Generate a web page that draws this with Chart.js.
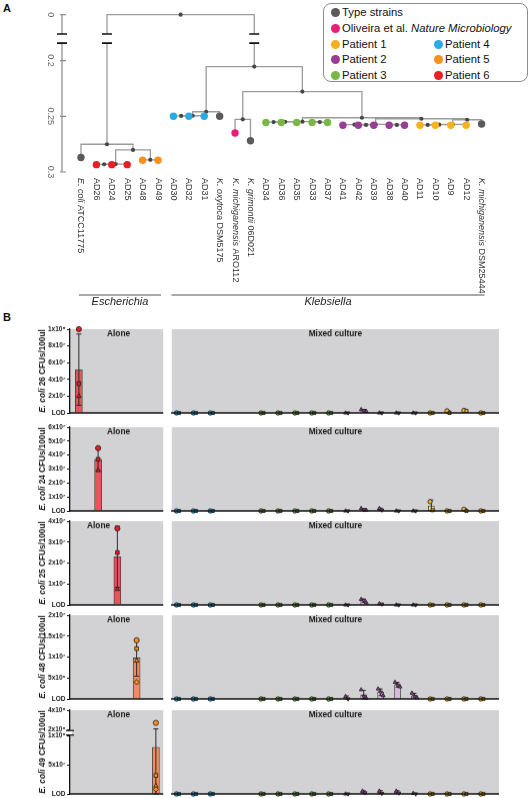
<!DOCTYPE html>
<html>
<head>
<meta charset="utf-8">
<title>Strain tree and E. coli CFU counts</title>
<script src="https://cdn.jsdelivr.net/npm/chart.js@4.4.1/dist/chart.umd.min.js"></script>
<style>
  body { margin: 0; width: 530px; height: 798px; overflow: hidden; background: #fff; position: relative;
         font-family: "Liberation Sans", Arial, sans-serif; }
  canvas { position: absolute; }
  .letter { position: absolute; font-weight: bold; font-size: 11px; color: #111; }
  #legend { position: absolute; left: 323px; top: 3px; width: 205px; height: 79px; box-sizing: border-box;
            border: 1px solid #8c8c8c; border-radius: 8px; font-size: 11.3px; color: #111; }
  .lg { position: absolute; height: 12px; line-height: 12px; white-space: nowrap; }
  .lg span { display: inline-block; width: 9px; height: 9px; border-radius: 50%; margin-right: 2.5px; vertical-align: -1px; }
</style>
</head>
<body>
<div class="letter" style="left:3px;top:2px">A</div>
<div class="letter" style="left:3px;top:311px">B</div>
<div id="legend"></div>
<script>
'use strict';

// ---------- panel A: strain tree ----------
const leafNames = ['E. coli ATCC11775', 'AD26', 'AD24', 'AD25', 'AD48', 'AD49', 'AD30', 'AD32', 'AD31',
  'K. oxytoca DSM5175', 'K. michiganensis ARO112', 'K. grimontii 06D021', 'AD34', 'AD36', 'AD35', 'AD33', 'AD37',
  'AD41', 'AD42', 'AD39', 'AD38', 'AD40', 'AD11', 'AD10', 'AD9', 'AD12', 'K. michiganensis DSM25444'];
const groupNames = ['Type strains', 'Oliveira et al. Nature Microbiology', 'Patient 1', 'Patient 2',
  'Patient 3', 'Patient 4', 'Patient 5', 'Patient 6'];
const groupColors = ['#5a5a5a', '#e91e7a', '#f6b21e', '#9a3d96', '#78b843', '#2aabe2', '#f7901e', '#ec1c24'];
const leafGroup = [0, 7, 7, 7, 6, 6, 5, 5, 5, 0, 1, 0, 4, 4, 4, 4, 4, 3, 3, 3, 3, 3, 2, 2, 2, 2, 0];
const leafDepth = [0.287, 0.2934, 0.2934, 0.2934, 0.2894, 0.2894, 0.25, 0.25, 0.25, 0.25, 0.265, 0.272,
  0.2555, 0.2555, 0.2555, 0.2555, 0.2555, 0.258, 0.258, 0.258, 0.258, 0.258, 0.258, 0.258, 0.258, 0.258, 0.2569];
// internal nodes, numbered after the leaves (27, 28, ...)
const nodeKids = [[1, 2], [27, 3], [4, 5], [28, 29], [0, 30], [6, 7], [32, 8], [33, 9], [10, 11],
  [12, 13], [36, 14], [15, 16], [37, 38], [18, 19], [17, 40], [20, 21], [41, 42], [22, 23], [44, 24],
  [45, 25], [46, 26], [43, 47], [39, 48], [35, 49], [34, 50], [31, 51]];
const nodeDepth = [0.2931, 0.2929, 0.2891, 0.2802, 0.2751, 0.2497, 0.2495, 0.2459, 0.2527,
  0.2552, 0.255, 0.2552, 0.2548, 0.2577, 0.2575, 0.2577, 0.2573, 0.2577, 0.2575,
  0.2573, 0.2531, 0.2522, 0.2513, 0.2278, 0.2054, 0];
const depthTicks = [0, 0.2, 0.25, 0.3];
const genusNames = ['Escherichia', 'Klebsiella'];
const genusLeaves = [[0, 5], [6, 26]];

// ---------- panel B: CFUs/100ul ----------
const aloneStrains = ['E. coli 26', 'E. coli 24', 'E. coli 25', 'E. coli 48', 'E. coli 49'];
const aloneGroup = [7, 7, 7, 6, 6];
const aloneCounts = [
  [1.0e8, 3.5e7, 2.0e7],
  [4.5e7, 3.7e7, 2.9e7],
  [3.65e7, 2.5e7, 0.75e7],
  [1.4e7, 1.2e7, 0.91e7, 0.4e7],
  [2.68e8, 3.2e7, 1.4e7, 0.8e7]
];
const mixedStrains = ['AD30', 'AD32', 'AD31', '', '', 'AD34', 'AD36', 'AD35', 'AD33', 'AD37',
  'AD41', 'AD42', 'AD39', 'AD38', 'AD40', 'AD11', 'AD10', 'AD9', 'AD12'];
const mixedGroup = [5, 5, 5, null, null, 4, 4, 4, 4, 4, 3, 3, 3, 3, 3, 2, 2, 2, 2];
const mixed26 = [[0, 0], [0, 0], [0, 0], null, null, [0, 0], [0, 0], [0, 0], [0, 0], [0, 0],
  [0, 0], [4e6, 3e6, 2e6], [0, 0], [0, 0], [0, 0], [0, 0], [2.5e6, 0], [3e6, 2.5e6], [0, 0]];
const mixed24 = [[0, 0], [0, 0], [0, 0], null, null, [0, 0], [0, 0], [0, 0], [0, 0], [0, 0],
  [0, 0], [1.8e6, 0.8e6, 0.6e6], [1.8e6, 0.6e6], [0, 0], [0, 0], [6.6e6, 0.5e6], [0, 0], [1.2e6, 0], [0, 0]];
const mixed25 = [[0, 0], [0, 0], [0, 0], null, null, [0, 0], [0, 0], [0, 0], [0, 0], [0, 0],
  [0, 0], [2.7e6, 2.2e6, 1.1e6], [0.6e6, 0.4e6], [0, 0], [0, 0], [0, 0], [0, 0], [0, 0], [0, 0]];
const mixed48 = [[0, 0], [0, 0], [0, 0], null, null, [0, 0], [0, 0], [0, 0], [0, 0], [0, 0],
  [0.6e6, 0], [2.2e6, 0.6e6, 0.2e6], [2.4e6, 1.6e6, 0.8e6], [4.0e6, 3.3e6, 2.9e6], [1.4e6, 0.6e6, 0.3e6],
  [0, 0], [0, 0], [0, 0], [0, 0]];
const mixed49 = [[0, 0], [0, 0], [0, 0], null, null, [0, 0], [0, 0], [0, 0], [0, 0], [0, 0],
  [0, 0], [5e6, 2e6], [5e6, 1e6], [5e6, 1.5e6], [1e6, 0], [0, 0], [0, 0], [0, 0], [0, 0]];
const mixedCounts = [mixed26, mixed24, mixed25, mixed48, mixed49];
const yTicks = [
  [0, 2e7, 4e7, 6e7, 8e7, 1e8],
  [0, 1e7, 2e7, 3e7, 4e7, 5e7, 6e7],
  [0, 1e7, 2e7, 3e7, 4e7],
  [0, 5e6, 1e7, 1.5e7, 2e7],
  [0, 5e7, 1e8, 2e8, 4e8]
];
const yTickLabels = [
  ['LOD', '2x10⁷', '4x10⁷', '6x10⁷', '8x10⁷', '1x10⁸'],
  ['LOD', '1x10⁷', '2x10⁷', '3x10⁷', '4x10⁷', '5x10⁷', '6x10⁷'],
  ['LOD', '1x10⁷', '2x10⁷', '3x10⁷', '4x10⁷'],
  ['LOD', '5x10⁶', '1x10⁷', '1.5x10⁷', '2x10⁷'],
  ['LOD', '5x10⁷', '1x10⁸', '2x10⁸', '4x10⁸']
];

// ---------- styling / helpers ----------
const FONT = '"Liberation Sans", Arial, sans-serif';
const barFill = ['#aaaaaa', '#f59ac0', '#f7d583', '#d9b9da', '#bfe09e', '#a9d9f2', '#f08b5e', '#e9535b'];
const panelGray = '#d2d2d4';
const repShapes = ['circle', 'rect', 'triangle', 'rectRot'];

const mean = a => a.reduce((s, v) => s + v, 0) / a.length;
const sd = a => { const m = mean(a); return Math.sqrt(a.reduce((s, v) => s + (v - m) ** 2, 0) / (a.length - 1)); };

// the tree axis squeezes 0-0.2 into a short broken stretch
const depthToAxis = d => d >= 0.2 ? d : 0.2 - (0.2 - d) * 0.206;
// E. coli 49 axis is broken above 1x10^8
const brokenAxis = v => v <= 1e8 ? v : v <= 2e8 ? 1e8 + (v - 1e8) * 0.115 : 1.115e8 + (v - 2e8) * 0.1665;
const rowScale = [v => v, v => v, v => v, v => v, brokenAxis];

function speciesParts(name, style) {
  const m = name.match(/^([EK]\. \S+)(.*)$/);
  return m ? [[m[1], style + 'italic '], [m[2], style]] : [[name, style]];
}
function richWidth(ctx, parts, size) {
  let w = 0;
  parts.forEach(([t, st]) => { ctx.font = `${st}${size}px ${FONT}`; w += ctx.measureText(t).width; });
  return w;
}
function drawRich(ctx, parts, x, y, size) {
  let off = x;
  parts.forEach(([t, st]) => { ctx.font = `${st}${size}px ${FONT}`; ctx.fillText(t, off, y); off += ctx.measureText(t).width; });
}
function makeCanvas(left, top, w, h) {
  const c = document.createElement('canvas');
  c.width = w; c.height = h;
  c.style.left = left + 'px'; c.style.top = top + 'px';
  c.style.width = w + 'px'; c.style.height = h + 'px';
  document.body.appendChild(c);
  return c;
}

// legend
const legendRows = [[0], [1], [2, 5], [3, 6], [4, 7]];
const legendBox = document.getElementById('legend');
legendRows.forEach((row, i) => row.forEach((g, j) => {
  const d = document.createElement('div');
  d.className = 'lg';
  d.style.left = (j ? 109.5 : 6.5) + 'px';
  d.style.top = (2.3 + i * 15.6) + 'px';
  d.innerHTML = `<span style="background:${groupColors[g]}"></span>` +
    groupNames[g].replace('Nature Microbiology', '<i>Nature Microbiology</i>');
  legendBox.appendChild(d);
}));

// ---------- panel A chart ----------
const nodeX = leafNames.map((_, i) => i);
const nodeD = leafDepth.slice();
nodeKids.forEach(([a, b], k) => { nodeX.push((nodeX[a] + nodeX[b]) / 2); nodeD.push(nodeDepth[k]); });

const branchSets = nodeKids.map(([a, b], k) => {
  const p = leafNames.length + k;
  return {
    showLine: true, order: 3, borderColor: '#9b9b9b', borderWidth: 1.3, pointRadius: 0, clip: false,
    data: [
      { x: nodeX[a], y: depthToAxis(nodeD[a]) }, { x: nodeX[a], y: depthToAxis(nodeD[p]) },
      { x: nodeX[b], y: depthToAxis(nodeD[p]) }, { x: nodeX[b], y: depthToAxis(nodeD[b]) }
    ]
  };
});
const nodeSet = {
  order: 2, pointRadius: 2.1, pointBackgroundColor: '#474747', pointBorderWidth: 0, clip: false,
  data: nodeKids.map((_, k) => ({ x: nodeX[leafNames.length + k], y: depthToAxis(nodeDepth[k]) }))
};
const leafSet = {
  order: 1, pointRadius: 3.7, pointBorderWidth: 0, clip: false,
  pointBackgroundColor: leafGroup.map(g => groupColors[g]),
  data: leafNames.map((_, i) => ({ x: i, y: depthToAxis(leafDepth[i]) }))
};

const treePlugin = {
  id: 'tree',
  afterDraw(chart) {
    const { ctx, chartArea: area, scales: { x, y } } = chart;
    const yTop = y.getPixelForValue(depthToAxis(0));
    const yBot = y.getPixelForValue(0.3);
    ctx.save();
    // depth axis
    ctx.strokeStyle = '#8a8a8a'; ctx.lineWidth = 1.2;
    ctx.beginPath();
    ctx.moveTo(area.left, yTop); ctx.lineTo(area.left, yBot);
    depthTicks.forEach(d => {
      const py = y.getPixelForValue(depthToAxis(d));
      ctx.moveTo(area.left - 2, py); ctx.lineTo(area.left + 4, py);
    });
    ctx.stroke();
    ctx.fillStyle = '#666'; ctx.font = `9px ${FONT}`; ctx.textAlign = 'center'; ctx.textBaseline = 'middle';
    depthTicks.forEach(d => {
      ctx.save();
      ctx.translate(area.left - 12, y.getPixelForValue(depthToAxis(d)));
      ctx.rotate(Math.PI / 2);
      ctx.fillText(String(d), 0, 0);
      ctx.restore();
    });
    // axis breaks on the depth axis and both root branches
    const y02 = y.getPixelForValue(0.2);
    const b1 = yTop + 0.42 * (y02 - yTop), b2 = yTop + 0.62 * (y02 - yTop);
    const breakXs = [area.left, ...nodeKids[nodeKids.length - 1].map(k => x.getPixelForValue(nodeX[k]))];
    breakXs.forEach(px => {
      ctx.fillStyle = '#fff'; ctx.fillRect(px - 3, b1, 6, b2 - b1);
      ctx.strokeStyle = '#111'; ctx.lineWidth = 1.6;
      ctx.beginPath();
      ctx.moveTo(px - 5, b1); ctx.lineTo(px + 5, b1);
      ctx.moveTo(px - 5, b2); ctx.lineTo(px + 5, b2);
      ctx.stroke();
    });
    // strain labels, rotated to read downwards
    ctx.fillStyle = '#333'; ctx.textAlign = 'left';
    leafNames.forEach((name, i) => {
      ctx.save();
      ctx.translate(x.getPixelForValue(i), area.bottom + 6);
      ctx.rotate(Math.PI / 2);
      drawRich(ctx, speciesParts(name, ''), 0, 0, 9);
      ctx.restore();
    });
    // genus brackets
    genusLeaves.forEach(([a, b], g) => {
      const x1 = x.getPixelForValue(a) - 2, x2 = x.getPixelForValue(b) + 3, ly = area.bottom + 123;
      ctx.strokeStyle = '#555'; ctx.lineWidth = 1;
      ctx.beginPath(); ctx.moveTo(x1, ly); ctx.lineTo(x2, ly); ctx.stroke();
      ctx.fillStyle = '#222'; ctx.font = `italic 11px ${FONT}`; ctx.textAlign = 'center';
      ctx.fillText(genusNames[g], (x1 + x2) / 2, ly + 7);
    });
    ctx.restore();
  }
};

new Chart(makeCanvas(0, 0, 530, 326), {
  type: 'scatter',
  data: { datasets: [leafSet, nodeSet, ...branchSets] },
  options: {
    responsive: false, animation: false, devicePixelRatio: 1, events: [],
    layout: { padding: { left: 62, right: 33, top: 14.7, bottom: 154 } },
    scales: {
      x: { type: 'linear', display: false, offset: false, min: -1.232, max: 27 },
      y: { type: 'linear', display: false, reverse: true, min: depthToAxis(0), max: 0.3 }
    },
    plugins: { legend: { display: false }, tooltip: { enabled: false } }
  },
  plugins: [treePlugin]
});

// ---------- panel B charts ----------
const rowTop = [329, 427, 521, 615, 710];
const rowH = 83.5;

function cfuChart(cfg) {
  const { r, left, width, padLeft, padRight, xMin, xMax, bars, points, errors, title, showAxis } = cfg;
  const T = rowScale[r];
  const ticks = yTicks[r];
  const canvas = makeCanvas(left, rowTop[r] - 14, width, rowH + 22);
  const plugin = {
    id: 'cfu',
    beforeDraw(chart) {
      const { ctx, chartArea: a } = chart;
      ctx.save(); ctx.fillStyle = panelGray; ctx.fillRect(a.left, a.top, a.right - a.left, a.bottom - a.top); ctx.restore();
    },
    afterDatasetDraw(chart, args) {
      if (args.index !== 0) return;
      const { ctx, scales: { x, y } } = chart;
      ctx.save(); ctx.strokeStyle = '#2b2b2b'; ctx.lineWidth = 1;
      ctx.beginPath();
      errors.forEach(e => {
        const px = x.getPixelForValue(e.x), lo = y.getPixelForValue(e.lo), hi = y.getPixelForValue(e.hi);
        ctx.moveTo(px, lo); ctx.lineTo(px, hi);
        ctx.moveTo(px - e.cap, hi); ctx.lineTo(px + e.cap, hi);
        ctx.moveTo(px - e.cap, lo); ctx.lineTo(px + e.cap, lo);
      });
      ctx.stroke(); ctx.restore();
    },
    afterDraw(chart) {
      const { ctx, chartArea: a, scales: { y } } = chart;
      ctx.save();
      ctx.strokeStyle = '#111'; ctx.lineWidth = 1.5;
      ctx.beginPath(); ctx.moveTo(a.left - 0.7, a.bottom); ctx.lineTo(a.right, a.bottom); ctx.stroke();
      ctx.fillStyle = '#1a1a1a'; ctx.textAlign = 'center'; ctx.textBaseline = 'middle';
      ctx.font = `bold 8.3px ${FONT}`;
      ctx.fillText(title, (a.left + a.right) / 2 + (cfg.titleShift || 0), a.top + 4.5);
      if (showAxis) {
        const parts = speciesParts(aloneStrains[r] + ' CFUs/100ul', 'bold ');
        const w = richWidth(ctx, parts, 8.2);
        ctx.save();
        ctx.translate(43, (a.top + a.bottom) / 2);
        ctx.rotate(-Math.PI / 2);
        ctx.textAlign = 'left';
        drawRich(ctx, parts, -w / 2, 0, 8.2);
        ctx.restore();
        if (T === brokenAxis) {
          const y1 = y.getPixelForValue(T(1e8)), y2 = y.getPixelForValue(T(2e8));
          ctx.fillStyle = '#fff'; ctx.fillRect(a.left - 2, y2 + 1.2, 4, y1 - y2 - 2.4);
          ctx.strokeStyle = '#111'; ctx.lineWidth = 1.2;
          ctx.beginPath();
          ctx.moveTo(a.left - 4, y1 - 1); ctx.lineTo(a.left + 4, y1 - 1);
          ctx.moveTo(a.left - 4, y2 + 1); ctx.lineTo(a.left + 4, y2 + 1);
          ctx.stroke();
        }
      }
      ctx.restore();
    }
  };
  const yScale = {
    type: 'linear', display: showAxis, min: 0, max: T(ticks[ticks.length - 1]),
    afterBuildTicks: s => { s.ticks = ticks.map(v => ({ value: T(v) })); },
    border: { color: '#111', width: 1.3 },
    grid: { drawOnChartArea: false, tickLength: 3, color: '#111', lineWidth: 1 },
    ticks: {
      autoSkip: false, padding: 1.5, color: '#1a1a1a',
      font: { family: FONT, size: 6.5, weight: 'bold' },
      callback: (v, i) => yTickLabels[r][i]
    }
  };
  if (showAxis) yScale.afterFit = s => { s.width = 70; };
  return new Chart(canvas, {
    type: 'bar',
    data: {
      datasets: [
        { type: 'bar', order: 2, data: bars.data, backgroundColor: bars.colors, borderColor: '#3a3a3a',
          borderWidth: 0.8, barThickness: bars.thickness, clip: false },
        { type: 'scatter', order: 1, data: points.data, pointStyle: points.shapes, pointRotation: points.rotation,
          pointRadius: points.radius, pointBackgroundColor: points.colors, pointBorderColor: '#1e1e1e',
          pointBorderWidth: 0.8, clip: false }
      ]
    },
    options: {
      responsive: false, animation: false, devicePixelRatio: 1, events: [],
      layout: { padding: { left: padLeft, right: padRight, top: 14, bottom: 8 } },
      scales: {
        x: { type: 'linear', display: false, offset: false, min: xMin, max: xMax },
        y: yScale
      },
      plugins: { legend: { display: false }, tooltip: { enabled: false } }
    },
    plugins: [plugin]
  });
}

rowTop.forEach((_, r) => {
  const T = rowScale[r];

  // alone culture
  const reps = aloneCounts[r];
  const m = mean(reps), s = sd(reps);
  cfuChart({
    r, left: 0, width: 168, padLeft: 0, padRight: 3, xMin: -0.46, xMax: 4.38, showAxis: true,
    title: 'Alone', titleShift: r === 2 ? -18 : 2,
    bars: { data: [{ x: r, y: T(m) }], colors: [barFill[aloneGroup[r]]], thickness: 7 },
    points: {
      data: reps.map(v => ({ x: r, y: T(v) })),
      shapes: reps.map((_, j) => repShapes[j]),
      rotation: reps.map(() => 0),
      colors: reps.map(() => groupColors[aloneGroup[r]]),
      radius: 2.6
    },
    errors: [{ x: r, lo: T(Math.max(0, m - s)), hi: T(m + s), cap: 2.5 }]
  });

  // mixed culture
  const bars = { data: [], colors: [], thickness: 6 };
  const points = { data: [], shapes: [], rotation: [], colors: [], radius: 2.2 };
  const errors = [];
  mixedCounts[r].forEach((vals, i) => {
    if (!vals) return;
    const g = mixedGroup[i];
    const mm = mean(vals);
    if (mm > 0) {
      bars.data.push({ x: i, y: T(mm) });
      bars.colors.push(barFill[g]);
      const ss = sd(vals);
      errors.push({ x: i, lo: T(Math.max(0, mm - ss)), hi: T(mm + ss), cap: 2 });
    }
    vals.forEach((v, j) => {
      points.data.push({ x: i + (j - (vals.length - 1) / 2) * 0.15, y: T(v) });
      points.shapes.push(g === 3 ? 'triangle' : repShapes[j]);
      points.rotation.push(g === 3 && j === 1 ? 180 : 0);
      points.colors.push(groupColors[g]);
    });
  });
  cfuChart({
    r, left: 167, width: 363, padLeft: 3, padRight: 31, xMin: -0.35, xMax: 19, showAxis: false,
    title: 'Mixed culture', bars, points, errors
  });
});
</script>
</body>
</html>
